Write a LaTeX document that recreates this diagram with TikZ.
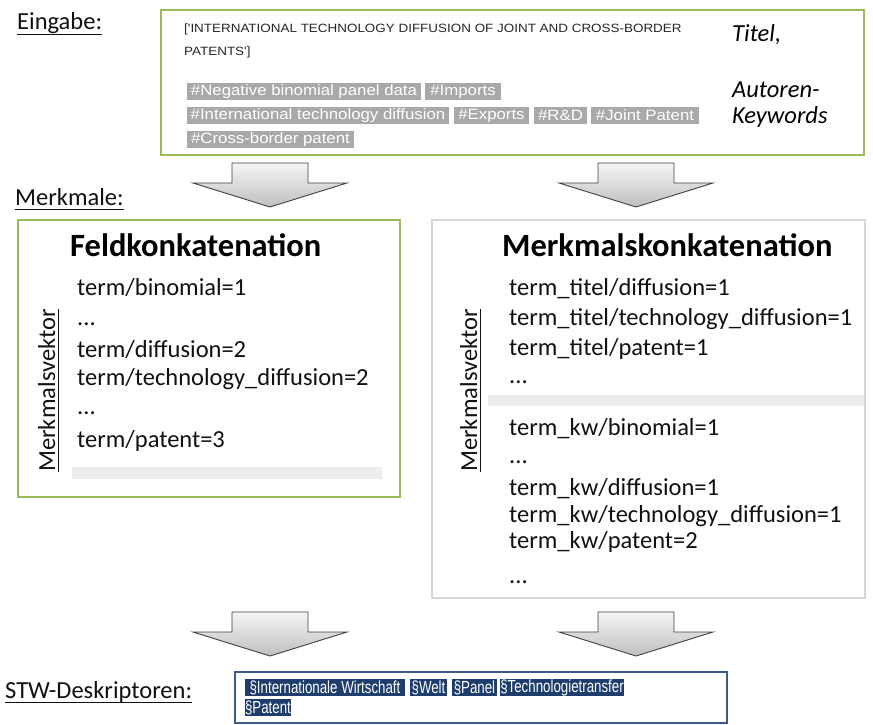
\documentclass[tikz,border=0pt]{standalone}
\usepackage{fontspec}
\setmainfont{Carlito}
\newfontfamily\arialwide[FakeStretch=1.12]{Liberation Sans}
\newfontfamily\arialnarrow[FakeStretch=0.76]{Liberation Sans}
\definecolor{txt}{HTML}{111111}
\definecolor{grn}{HTML}{9BBB59}
\definecolor{tagg}{HTML}{A9A9A9}
\definecolor{boxgray}{HTML}{D6D6D6}
\definecolor{barg}{HTML}{EDEDED}
\definecolor{navy}{HTML}{1F3D6C}
\definecolor{navyb}{HTML}{3A5C86}
\newcommand\blockarrow[2]{%
  \shade[top color=gray!8, bottom color=gray!50, draw=black!75, line width=0.9pt, line join=miter]
    ({#1-38},{#2}) -- ({#1+38},{#2}) -- ({#1+38},{#2+20}) -- ({#1+77},{#2+20})
    -- ({#1},{#2+44}) -- ({#1-77},{#2+20}) -- ({#1-38},{#2+20}) -- cycle;}
\tikzset{
  lbl/.style={inner sep=0, anchor=base west, text=txt, font=\fontsize{24.5}{29}\selectfont},
  itl/.style={inner sep=0, anchor=base west, text=black, font=\fontsize{24.5}{29}\selectfont\itshape},
  bodyline/.style={inner sep=0, anchor=base west, text=txt, font=\fontsize{24.5}{29}\selectfont},
  headline/.style={inner sep=0, anchor=base west, text=black, font=\fontsize{32.5}{38}\selectfont\bfseries},
  titleline/.style={inner sep=0, anchor=base west, text=black!85, font=\arialwide\fontsize{12}{14}\selectfont},
  kw/.style={inner sep=0, minimum height=17pt, fill=tagg, text=white, font=\arialwide\fontsize{15}{17}\selectfont},
  desc/.style={inner sep=0, minimum height=17pt, fill=navy, text=white, font=\arialnarrow\fontsize{17.5}{17}\selectfont},
  vec/.style={inner sep=0, anchor=base, rotate=90, text=txt, font=\fontsize{24.5}{29}\selectfont},
  uline/.style={draw=txt, line width=0.9pt},
}
\begin{document}
\begin{tikzpicture}[x=1pt, y=-1pt]
\useasboundingbox (0,0) rectangle (873,725);
\fill[white] (0,0) rectangle (873,725);

% ---------- Eingabe ----------
\node[lbl] (eing) at (17,30) {Eingabe:};
\draw[uline] ([yshift=-4pt]eing.base west) -- ([yshift=-4pt]eing.base east);

\node[draw=grn, line width=2.5pt, minimum width=703pt, minimum height=145pt, inner sep=0] (inbox) at (512.5,82.5) {};
\node[titleline] (t1) at (184,33) {['INTERNATIONAL TECHNOLOGY DIFFUSION OF JOINT AND CROSS-BORDER};
\node[titleline] (t2) at (184,56) {PATENTS']};

\node[kw, minimum width=234pt] (k1) at (304,91.5) {\#Negative binomial panel data};
\node[kw, minimum width=76pt] (k2) at (463,91.5) {\#Imports};
\node[kw, minimum width=262pt] (k3) at (318,115.5) {\#International technology diffusion};
\node[kw, minimum width=75pt] (k4) at (491.5,115.5) {\#Exports};
\node[kw, minimum width=53pt] (k5) at (560.5,115.5) {\#R\&D};
\node[kw, minimum width=108pt] (k6) at (645,115.5) {\#Joint Patent};
\node[kw, minimum width=167pt] (k7) at (270.5,139.5) {\#Cross-border patent};

\node[itl] (titel) at (732,42) {Titel,};
\node[itl] (aut) at (732,98) {Autoren-};
\node[itl] (kwd) at (732,123) {Keywords};

% ---------- arrows top ----------
\blockarrow{270}{163}
\blockarrow{636}{163}

% ---------- Merkmale ----------
\node[lbl] (merk) at (15,205) {Merkmale:};
\draw[uline] ([yshift=-4pt]merk.base west) -- ([yshift=-4pt]merk.base east);

% left box
\node[draw=grn, line width=2.5pt, minimum width=382pt, minimum height=277pt, inner sep=0] (lbox) at (209,358.5) {};
\node[headline] (lh) at (70,256) {Feldkonkatenation};
\node[bodyline] (l1) at (77,295) {term/binomial=1};
\node[bodyline] (l2) at (77,325) {...};
\node[bodyline] (l3) at (77,357) {term/diffusion=2};
\node[bodyline] (l4) at (77,385) {term/technology\_diffusion=2};
\node[bodyline] (l5) at (77,414) {...};
\node[bodyline] (l6) at (77,447) {term/patent=3};
\fill[barg] (72,467) rectangle (382,479);
\node[vec] (mvl) at (55,390.5) {Merkmalsvektor};
\draw[uline] ([xshift=3pt]mvl.base west) -- ([xshift=3pt]mvl.base east);

% right box
\node[draw=boxgray, line width=2pt, minimum width=433pt, minimum height=378pt, inner sep=0] (rbox) at (648.5,409) {};
\node[headline] (rh) at (502,256) {Merkmalskonkatenation};
\node[bodyline] (r1) at (509,295) {term\_titel/diffusion=1};
\node[bodyline] (r2) at (509,325) {term\_titel/technology\_diffusion=1};
\node[bodyline] (r3) at (509,355) {term\_titel/patent=1};
\node[bodyline] (r4) at (509,383) {...};
\fill[barg] (488,395) rectangle (864,406);
\node[bodyline] (r5) at (509,435) {term\_kw/binomial=1};
\node[bodyline] (r6) at (509,463) {...};
\node[bodyline] (r7) at (509,495) {term\_kw/diffusion=1};
\node[bodyline] (r8) at (509,522) {term\_kw/technology\_diffusion=1};
\node[bodyline] (r9) at (509,548) {term\_kw/patent=2};
\node[bodyline] (r10) at (509,583) {...};
\node[vec] (mvr) at (477,390.5) {Merkmalsvektor};
\draw[uline] ([xshift=3pt]mvr.base west) -- ([xshift=3pt]mvr.base east);

% ---------- arrows bottom ----------
\blockarrow{270}{612}
\blockarrow{636}{612}

% ---------- STW ----------
\node[lbl] (stw) at (5,698) {STW-Deskriptoren:};
\draw[uline] ([yshift=-4pt]stw.base west) -- ([yshift=-4pt]stw.base east);

\node[draw=navyb, line width=2pt, minimum width=492pt, minimum height=51pt, inner sep=0] (obox) at (481,697.5) {};
\node[desc, minimum width=160pt] (d1) at (325,687.5) {\S Internationale Wirtschaft};
\node[desc, minimum width=37pt] (d2) at (428.5,687.5) {\S Welt};
\node[desc, minimum width=45pt] (d3) at (474.5,687.5) {\S Panel};
\node[desc, minimum width=122pt] (d4) at (562,687.5) {\S Technologietransfer};
\node[desc, minimum width=46pt] (d5) at (268,707.5) {\S Patent};
\end{tikzpicture}
\end{document}
